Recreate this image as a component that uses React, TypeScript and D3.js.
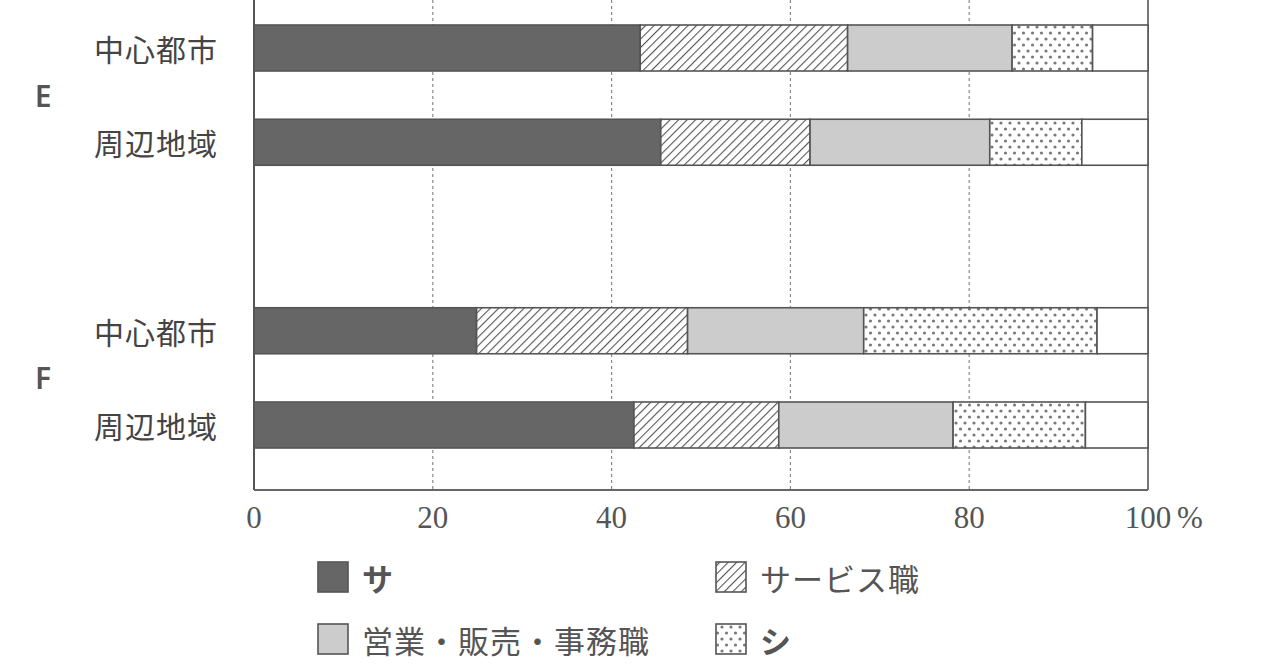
import React from 'react';
import * as d3 from 'd3';

// row labels, group labels and job categories
const rowLabels = ['中心都市', '周辺地域', '中心都市', '周辺地域'];
const rowSlots = [0, 1, 3, 4];
const groupLabels = ['E', 'F'];
const groupSlots = [0.5, 3.5];
const categories = ['サ', 'サービス職', '営業・販売・事務職', 'シ'];

// shares in % per row (rest up to 100 is the remainder)
const sa = [43.2, 45.5, 24.9, 42.5];
const service = [23.2, 16.7, 23.6, 16.2];
const office = [18.4, 20.1, 19.7, 19.5];
const shi = [9.0, 10.3, 26.1, 14.8];

const ticks = [0, 20, 40, 60, 80, 100];

const width = 1280;
const height = 671;
const left = 254;
const right = 1148;
const axisY = 490;
const barH = 46;

const fills = ['#666666', 'url(#hatch)', '#cccccc', 'url(#dots)', '#ffffff'];

const App = () => {
  const x = d3.scaleLinear().domain([0, 100]).range([left, right]);
  const y = d3.scaleLinear().domain([0, 4]).range([48, 425]);

  const rows = rowLabels.map((label, i) => {
    const vals = [sa[i], service[i], office[i], shi[i]];
    const rest = 100 - d3.sum(vals);
    return {label, slot: rowSlots[i], vals: [...vals, rest]};
  });

  const stackRows = rows.map(r => {
    let acc = 0;
    return r.vals.map((v, k) => {
      const seg = {x0: acc, x1: acc + v, k};
      acc += v;
      return seg;
    });
  });

  const labelFont = '"Noto Sans CJK JP", sans-serif';
  const tickFont = '"Liberation Serif", serif';
  const legendItems = categories.map((c, k) => ({
    c,
    k,
    lx: k % 2 === 0 ? 318 : 716,
    ly: k < 2 ? 562 : 624,
  }));

  return (
    <svg width={width} height={height} style={{position: 'absolute', left: 0, top: 0, background: '#fff'}}>
      <defs>
        <pattern id="hatch" patternUnits="userSpaceOnUse" width="6" height="6" patternTransform="rotate(45)">
          <rect width="6" height="6" fill="#fff" />
          <line x1="0" y1="0" x2="0" y2="6" stroke="#555" strokeWidth="2.2" />
        </pattern>
        <pattern id="dots" patternUnits="userSpaceOnUse" width="9" height="12">
          <rect width="9" height="12" fill="#fff" />
          <circle cx="2" cy="3" r="1.6" fill="#7a7a7a" />
          <circle cx="6.5" cy="9" r="1.6" fill="#7a7a7a" />
        </pattern>
      </defs>

      {/* dotted grid */}
      {ticks.slice(1, -1).map(t => (
        <line key={t} x1={x(t)} x2={x(t)} y1={0} y2={axisY} stroke="#888" strokeWidth={1.2} strokeDasharray="3,3" />
      ))}

      {/* frame */}
      <line x1={left} x2={left} y1={0} y2={axisY} stroke="#555" strokeWidth={2} />
      <line x1={right} x2={right} y1={0} y2={axisY} stroke="#777" strokeWidth={2} />
      <line x1={left} x2={right} y1={axisY} y2={axisY} stroke="#666" strokeWidth={2} />

      {/* bars */}
      {stackRows.map((segs, i) => (
        <g key={i}>
          {segs.map(s => (
            <rect
              key={s.k}
              x={x(s.x0)}
              y={y(rows[i].slot) - barH / 2}
              width={x(s.x1) - x(s.x0)}
              height={barH}
              fill={fills[s.k]}
              stroke="#555"
              strokeWidth={1.6}
            />
          ))}
          <text
            x={218}
            y={y(rows[i].slot)}
            textAnchor="end"
            dominantBaseline="central"
            fontFamily={labelFont}
            fontSize={30}
            letterSpacing={1}
            fill="#444">
            {rows[i].label}
          </text>
        </g>
      ))}

      {groupLabels.map((g, i) => (
        <text
          key={g}
          x={43}
          y={y(groupSlots[i])}
          textAnchor="middle"
          dominantBaseline="central"
          fontFamily='"Noto Sans", sans-serif'
          fontSize={30}
          fontWeight={600}
          fill="#555">
          {g}
        </text>
      ))}

      {/* tick labels */}
      {ticks.map(t => (
        <text
          key={t}
          x={x(t)}
          y={517}
          textAnchor="middle"
          dominantBaseline="central"
          fontFamily={tickFont}
          fontSize={31}
          fill="#555">
          {t}
        </text>
      ))}
      <text x={x(100) + 29} y={517} dominantBaseline="central" fontFamily={tickFont} fontSize={31} fill="#555">
        %
      </text>

      {/* legend */}
      {legendItems.map(it => (
        <g key={it.k}>
          <rect x={it.lx} y={it.ly} width={30} height={30} fill={fills[it.k]} stroke="#555" strokeWidth={1.6} />
          <text
            x={it.lx + 44}
            y={it.ly + 15}
            dominantBaseline="central"
            fontFamily={labelFont}
            fontSize={31}
            letterSpacing={1}
            fontWeight={it.k === 0 || it.k === 3 ? 700 : 400}
            fill="#555">
            {it.c}
          </text>
        </g>
      ))}
    </svg>
  );
};

export default App;
